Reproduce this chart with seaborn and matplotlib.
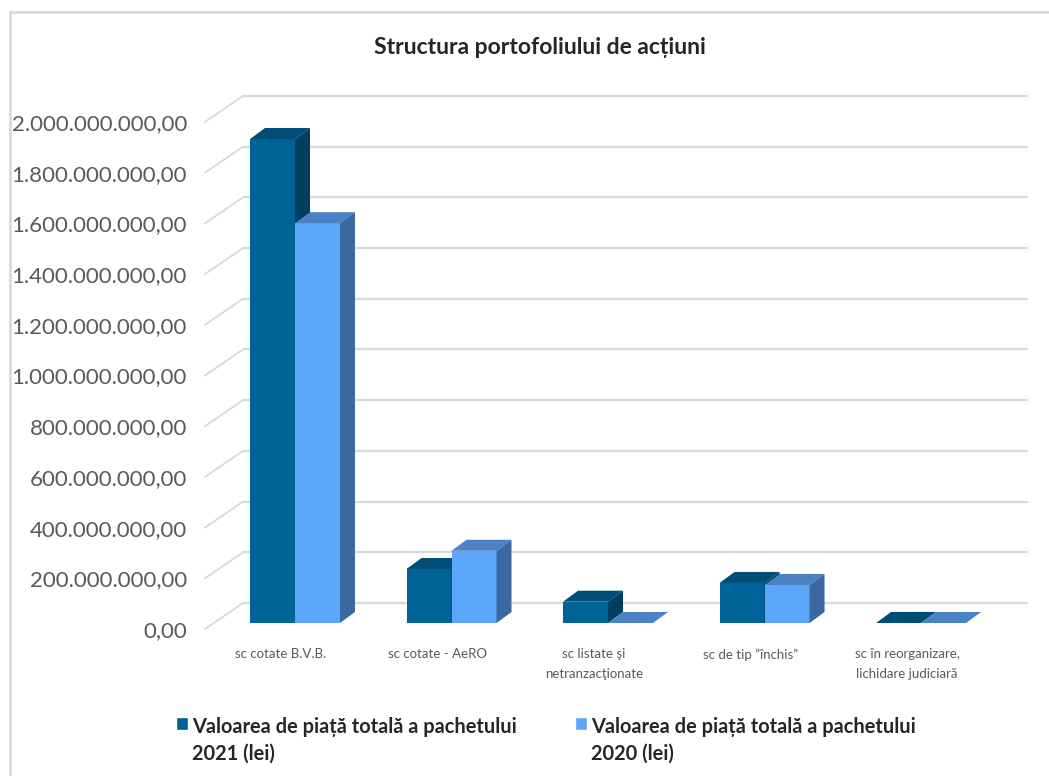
import numpy as np
import pandas as pd
import seaborn as sns
import matplotlib
matplotlib.use("Agg")
import matplotlib.pyplot as plt
from matplotlib.patches import Polygon
from matplotlib.lines import Line2D
from matplotlib import transforms

# data
categories = ["sc cotate B.V.B.", "sc cotate - AeRO", "sc listate şi\nnetranzacţionate",
              "sc de tip ”închis”", "sc în reorganizare,\nlichidare judiciară"]
values_2021 = [1909e6, 213e6, 84e6, 158e6, 0]
values_2020 = [1577e6, 285e6, 0, 150e6, 0]
series = ["Valoarea de piață totală a pachetului\n2021 (lei)",
          "Valoarea de piață totală a pachetului\n2020 (lei)"]
yticks = [0, 200e6, 400e6, 600e6, 800e6, 1000e6, 1200e6, 1400e6, 1600e6, 1800e6, 2000e6]

front_colors = ["#006398", "#5CA6FA"]
top_colors = ["#004E77", "#4A82C3"]
side_colors = ["#003F5F", "#3B68A0"]
grid_color = "#D9D9D9"

df = pd.DataFrame({
    "Categorie": categories * 2,
    "Valoare": values_2021 + values_2020,
    "Serie": [series[0]] * len(categories) + [series[1]] * len(categories),
})

sns.set_style("white")
plt.rcParams["font.family"] = ["Lato", "DejaVu Sans"]

fig = plt.figure(figsize=(10.49, 7.76), dpi=100)
ax = fig.add_axes([205 / 1049, 136 / 776, 835 / 1049, 555 / 776])
sns.barplot(data=df, x="Categorie", y="Valoare", hue="Serie", palette=front_colors,
            width=0.575, saturation=1, errorbar=None, ax=ax)
ax.set_xlim(-0.575, 4.76)
ax.set_ylim(-67e6, 2122e6)


def off(dxp, dyp):
    # pixel offset -> data offset
    o = ax.transData.transform((0, 0))
    x, y = ax.transData.inverted().transform(o + np.array([dxp, dyp]))
    return x, y


# fake 3d faces on the bars
bdx, bdy = off(15, 11)
for z, cont in enumerate(ax.containers):
    for p in cont.patches:
        x0 = p.get_x()
        x1 = x0 + p.get_width()
        h = p.get_height()
        p.set_zorder(3 + z)
        p.set_edgecolor("none")
        ax.add_patch(Polygon([(x0, h), (x1, h), (x1 + bdx, h + bdy), (x0 + bdx, h + bdy)],
                             closed=True, fc=top_colors[z], ec="none", zorder=3 + z))
        ax.add_patch(Polygon([(x1, 0), (x1 + bdx, bdy), (x1 + bdx, h + bdy), (x1, h)],
                             closed=True, fc=side_colors[z], ec="none", zorder=3 + z))

# back wall grid + diagonal floor/side lines
fdx, fdy = off(0, -6)
gdx, gdy = off(38, 20)
x_front = -0.575
x_end = (1027 - 295) / 156.5
for v in yticks:
    ax.plot([x_front, x_front + gdx], [v + fdy, v + gdy], color=grid_color, lw=1.3, zorder=1, clip_on=False)
    ax.plot([x_front + gdx, x_end], [v + gdy, v + gdy], color=grid_color, lw=1.6, zorder=1, clip_on=False)

ytick_labels = [f"{v:,.2f}".replace(",", "X").replace(".", ",").replace("X", ".") for v in yticks]
ax.set_yticks(yticks)
ax.set_yticklabels(ytick_labels)
ax.tick_params(axis="y", length=0, pad=13, labelsize=16, labelcolor="#595959")
for lbl in ax.get_yticklabels():
    lbl.set_transform(lbl.get_transform() + transforms.ScaledTranslation(0, -6 / 100, fig.dpi_scale_trans))

ax.tick_params(axis="x", length=0, pad=6, labelsize=9.5, labelcolor="#595959")
for lbl in ax.get_xticklabels():
    lbl.set_linespacing(1.8)
    lbl.set_transform(lbl.get_transform() + transforms.ScaledTranslation(-14 / 100, 0, fig.dpi_scale_trans))
ax.set_xlabel("")
ax.set_ylabel("")
for s in ax.spines.values():
    s.set_visible(False)

handles, labels = ax.get_legend_handles_labels()
ax.get_legend().remove()
for i, xpos in enumerate([166, 565]):
    leg = fig.legend([handles[i]], [labels[i]], loc="upper left",
                     bbox_to_anchor=(xpos / 1049, 1 - 707 / 776), frameon=False,
                     prop={"weight": "bold", "size": 14.4}, handlelength=0.62, handleheight=0.62,
                     handletextpad=0.2, borderpad=0)
    for t in leg.get_texts():
        t.set_linespacing(1.42)
    for col in leg._legend_handle_box.get_children():
        for item in col.get_children():
            item.align = "top"

fig.text(540 / 1049, 1 - 47 / 776, "Structura portofoliului de acțiuni", ha="center", va="center",
         fontsize=16.5, fontweight="bold")

# chart border (left and top edges visible)
fig.add_artist(Line2D([10 / 1049, 10 / 1049], [0, 1 - 12 / 776], transform=fig.transFigure, color=grid_color, lw=2))
fig.add_artist(Line2D([10 / 1049, 1], [1 - 12 / 776, 1 - 12 / 776], transform=fig.transFigure, color=grid_color, lw=2))

fig.savefig("out.png", dpi=100)
